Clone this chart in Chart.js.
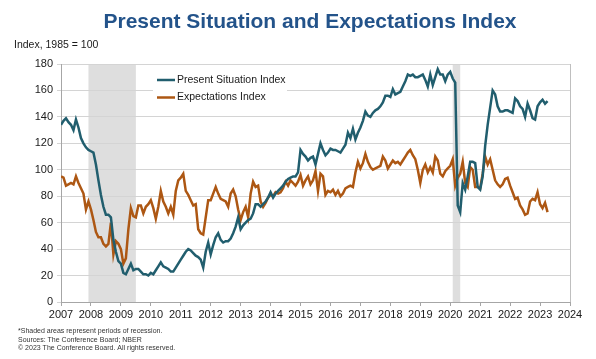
<!DOCTYPE html>
<html>
<head>
<meta charset="utf-8">
<script src="https://cdn.jsdelivr.net/npm/chart.js@4.4.1/dist/chart.umd.min.js"></script>
<style>
html, body { margin: 0; padding: 0; background: #fff; }
#wrap { position: relative; width: 596px; height: 359px; }
</style>
</head>
<body>
<div id="wrap"><canvas id="chart" width="596" height="359"></canvas></div>
<script>
// Monthly values, Jan 2007 - Apr 2023
var presentSituation = [
  134, 137, 139, 136, 134, 130, 138, 132, 124, 120, 117, 115,   // 2007
  114, 113, 104, 92, 81, 72, 66, 66, 64, 47, 38, 31,            // 2008
  29, 22, 21, 25, 29, 24, 25, 25, 23, 21, 21, 20,               // 2009
  22, 21, 24, 27, 30, 27, 26, 25, 23, 23, 26, 29,               // 2010
  32, 35, 38, 40, 39, 37, 35, 34, 32, 26, 38, 45,               // 2011
  36, 43, 49, 52, 47, 45, 46, 46, 48, 52, 57, 64,               // 2012
  55, 58, 60, 62, 63, 67, 74, 74, 72, 74, 76, 79,               // 2013
  83, 79, 82, 84, 86, 88, 91, 93, 94, 95, 95, 98,               // 2014
  115, 112, 110, 107, 109, 110, 104, 112, 120, 115, 111, 113,   // 2015
  116, 115, 115, 114, 113, 116, 119, 128, 124, 131, 123, 128,   // 2016
  132, 137, 144, 141, 140, 143, 145, 146, 148, 151, 156, 156,   // 2017
  155, 161, 157, 158, 159, 163, 167, 172, 171, 172, 170, 170,   // 2018
  171, 172, 168, 163, 172, 164, 170, 176, 172, 172, 167, 172,   // 2019
  174, 169, 166, 73, 68, 90, 85, 95, 106, 106, 105, 87,         // 2020
  85, 95, 118, 134, 147, 160, 157, 148, 144, 144, 145, 145,     // 2021
  144, 143, 154, 152, 148, 146, 140, 150, 145, 139, 138, 148,   // 2022
  151, 153, 150, 152                                            // 2023
];
var expectations = [
  95, 94, 88, 89, 90, 89, 95, 90, 86, 82, 70, 76,               // 2007
  70, 62, 53, 49, 49, 44, 42, 44, 60, 36, 46, 44,               // 2008
  40, 29, 33, 55, 71, 65, 64, 73, 73, 67, 72, 74,               // 2009
  77, 71, 63, 72, 84, 76, 72, 67, 72, 66, 84, 92,               // 2010
  94, 97, 84, 81, 77, 73, 74, 55, 52, 51, 64, 77,               // 2011
  77, 82, 87, 82, 78, 77, 76, 72, 82, 85, 80, 70,               // 2012
  62, 68, 72, 64, 82, 91, 87, 88, 76, 72, 75, 79,               // 2013
  81, 80, 83, 82, 83, 86, 91, 88, 92, 90, 88, 91,               // 2014
  96, 88, 92, 95, 89, 92, 99, 84, 97, 95, 81, 84,               // 2015
  83, 85, 81, 84, 80, 82, 86, 87, 88, 87, 98, 106,              // 2016
  101, 105, 112, 106, 102, 100, 101, 102, 103, 110, 107, 101,   // 2017
  104, 107, 105, 106, 104, 107, 110, 113, 115, 111, 108, 100,   // 2018
  90, 100, 104, 98, 102, 98, 110, 107, 97, 95, 99, 101,         // 2019
  103, 108, 88, 94, 97, 106, 90, 87, 102, 100, 87, 87,          // 2020
  86, 97, 110, 104, 108, 100, 92, 89, 87, 89, 93, 94,           // 2021
  88, 83, 78, 79, 73, 70, 66, 67, 76, 78, 77, 83,               // 2022
  74, 71, 75, 68                                                // 2023
];
var seriesNames = ['Present Situation Index', 'Expectations Index'];
var yearTicks = [2007, 2008, 2009, 2010, 2011, 2012, 2013, 2014, 2015,
                 2016, 2017, 2018, 2019, 2020, 2021, 2022, 2023, 2024];
// recession periods (NBER), as decimal years
var recessions = [[2007 + 11 / 12, 2009.5], [2020 + 1 / 12, 2020 + 4 / 12]];

var FONT = '"Liberation Sans", Arial, sans-serif';

// x position of each month, Jan 2007 = 2007.0
function toPoints(values) {
    return values.map(function(v, i) { return {x: 2007 + i / 12, y: v}; });
}

var decor = {
    id: 'decor',
    beforeDraw: function(chart) {
        var ctx = chart.ctx, a = chart.chartArea, xs = chart.scales.x;
        ctx.save();
        ctx.fillStyle = '#dedede';
        recessions.forEach(function(r) {
            var x0 = xs.getPixelForValue(r[0]), x1 = xs.getPixelForValue(r[1]);
            ctx.fillRect(x0, a.top, x1 - x0, a.bottom - a.top);
        });
        ctx.restore();
    },
    afterDraw: function(chart) {
        var ctx = chart.ctx, a = chart.chartArea;
        ctx.save();
        // right border of the plot
        ctx.strokeStyle = '#bfbfbf';
        ctx.lineWidth = 1;
        ctx.beginPath();
        ctx.moveTo(Math.round(a.right) + 0.5, a.top);
        ctx.lineTo(Math.round(a.right) + 0.5, a.bottom);
        ctx.stroke();

        // legend inside the plot
        ctx.fillStyle = '#fff';
        ctx.fillRect(153, 69, 134, 37);
        ctx.font = '10.5px ' + FONT;
        ctx.textBaseline = 'middle';
        chart.data.datasets.forEach(function(ds, i) {
            var y = 80 + i * 17.5;
            ctx.strokeStyle = ds.borderColor;
            ctx.lineWidth = 2.5;
            ctx.beginPath();
            ctx.moveTo(157, y);
            ctx.lineTo(175, y);
            ctx.stroke();
            ctx.fillStyle = '#1a1a1a';
            ctx.fillText(ds.label, 177, y);
        });

        // title
        ctx.textBaseline = 'alphabetic';
        ctx.textAlign = 'center';
        ctx.fillStyle = '#23538a';
        ctx.font = 'bold 21px ' + FONT;
        ctx.fillText('Present Situation and Expectations Index', 310, 28);

        // axis unit label
        ctx.textAlign = 'left';
        ctx.fillStyle = '#1a1a1a';
        ctx.font = '10.5px ' + FONT;
        ctx.fillText('Index, 1985 = 100', 14, 48);

        // notes
        ctx.font = '7px ' + FONT;
        ctx.fillStyle = '#333';
        ctx.fillText('*Shaded areas represent periods of recession.', 18, 333);
        ctx.fillText('Sources: The Conference Board; NBER', 18, 341.5);
        ctx.fillText('\u00a9 2023 The Conference Board. All rights reserved.', 18, 350);
        ctx.restore();
    }
};

var canvas = document.getElementById('chart');
var chart = new Chart(canvas.getContext('2d'), {
    type: 'line',
    data: {
        datasets: [{
            label: seriesNames[0],
            data: toPoints(presentSituation),
            borderColor: '#215e6e',
            borderWidth: 2.5,
            pointRadius: 0,
            tension: 0
        }, {
            label: seriesNames[1],
            data: toPoints(expectations),
            borderColor: '#ad5713',
            borderWidth: 2.5,
            pointRadius: 0,
            tension: 0
        }]
    },
    options: {
        responsive: false,
        animation: false,
        layout: {padding: {left: 0, top: 64, right: 26, bottom: 35}},
        plugins: {legend: {display: false}, tooltip: {enabled: false}},
        scales: {
            x: {
                type: 'linear',
                min: yearTicks[0],
                max: yearTicks[yearTicks.length - 1],
                afterFit: function(s) { s.height = 22; },
                afterBuildTicks: function(s) {
                    s.ticks = yearTicks.map(function(v) { return {value: v}; });
                },
                ticks: {
                    autoSkip: false, maxRotation: 0, padding: 2,
                    color: '#1a1a1a', font: {family: FONT, size: 11},
                    callback: function(v) { return String(v); }
                },
                grid: {drawOnChartArea: false, tickLength: 4, color: '#a6a6a6'},
                border: {color: '#a6a6a6'}
            },
            y: {
                min: 0,
                max: 180,
                afterFit: function(s) { s.width = 61; },
                ticks: {stepSize: 20, padding: 4, color: '#1a1a1a', font: {family: FONT, size: 11}},
                grid: {color: '#d4d4d4', tickLength: 4},
                border: {color: '#a6a6a6'}
            }
        }
    },
    plugins: [decor]
});
</script>
</body>
</html>
